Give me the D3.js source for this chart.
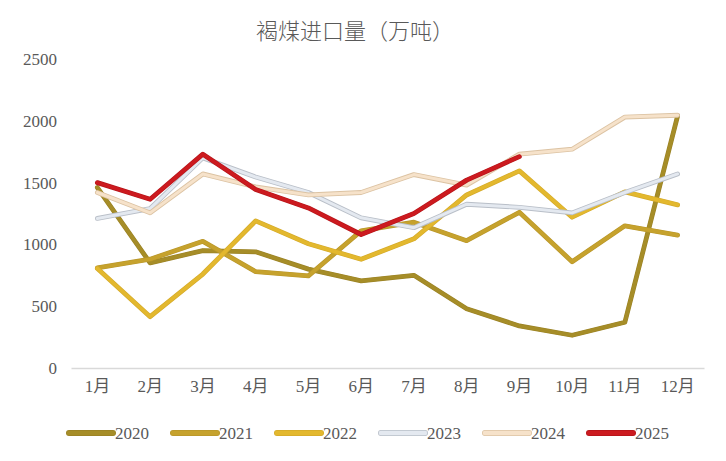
<!DOCTYPE html>
<html><head><meta charset="utf-8">
<script src="https://cdn.jsdelivr.net/npm/d3@7"></script>
<style>
html,body{margin:0;padding:0;background:#fff;}
text{font-family:"Liberation Serif","DejaVu Serif","Noto Sans CJK SC",serif;fill:#595959;}
</style></head>
<body><svg id="c" width="726" height="461"></svg>
<script>
const title = "褐煤进口量（万吨）";
const months = ["1月","2月","3月","4月","5月","6月","7月","8月","9月","10月","11月","12月"];
const yTicks = [0,500,1000,1500,2000,2500];
const years = ["2020","2021","2022","2023","2024","2025"];
const colors = ["#A68D28","#C6A22D","#E3B82E","#E4E9F0","#F6E2CA","#CC1A1F"];
const edges  = ["#9a8225","#b8962a","#d4aa2a","#b9bfc8","#dcc3a3","#b5151a"];
const s2020 = [1460,850,950,940,800,705,750,480,340,265,370,2040];
const s2021 = [810,880,1025,780,745,1110,1180,1030,1260,860,1150,1075];
const s2022 = [805,415,760,1190,1005,880,1045,1400,1595,1220,1425,1320];
const s2023 = [1210,1290,1700,1545,1420,1215,1135,1325,1300,1255,1420,1570];
const s2024 = [1420,1255,1570,1465,1400,1420,1565,1480,1730,1770,2030,2045];
const s2025 = [1500,1365,1730,1445,1295,1080,1250,1520,1710];
const series = [s2020,s2021,s2022,s2023,s2024,s2025];

(function(){
const svg = d3.select("#c");
const mL = 71, mR = 704, mT = 59, mB = 368;
const x = d3.scaleBand().domain(months).range([mL,mR]);
const y = d3.scaleLinear().domain([0,2500]).range([mB,mT]);

svg.append("text").attr("x",355).attr("y",39).attr("text-anchor","middle")
  .style("font-size","22px").style("font-family","'Noto Sans CJK SC',sans-serif").style("font-weight","300").text(title);

svg.selectAll(".yl").data(yTicks).enter().append("text")
  .attr("x",57).attr("y",d=>y(d)).attr("dy","0.35em").attr("text-anchor","end")
  .style("font-size","17px").text(d=>d);

const xa = svg.append("g").attr("transform",`translate(0,${mB})`)
  .call(d3.axisBottom(x).tickSize(0).tickPadding(12));
xa.select(".domain").attr("stroke","#d9d9d9").attr("stroke-width",1.3);
xa.selectAll("text").style("font-size","17px").style("font-family","'Liberation Serif','Noto Sans CJK SC',serif").attr("fill","#595959");

const line = d3.line().x((d,i)=>x(months[i])+x.bandwidth()/2).y(d=>y(d));
series.forEach((s,k)=>{
  svg.append("path").datum(s).attr("d",line).attr("fill","none")
    .attr("stroke",edges[k]).attr("stroke-width",4.8).attr("stroke-linejoin","round").attr("stroke-linecap","round");
  svg.append("path").datum(s).attr("d",line).attr("fill","none")
    .attr("stroke",colors[k]).attr("stroke-width",k>=3&&k<5?3.0:3.6).attr("stroke-linejoin","round").attr("stroke-linecap","round");
});

const lg = svg.append("g");
years.forEach((yr,k)=>{
  const x0 = 69 + k*104;
  lg.append("line").attr("x1",x0).attr("x2",x0+44).attr("y1",433).attr("y2",433)
    .attr("stroke",edges[k]).attr("stroke-width",6).attr("stroke-linecap","round");
  lg.append("line").attr("x1",x0).attr("x2",x0+44).attr("y1",433).attr("y2",433)
    .attr("stroke",colors[k]).attr("stroke-width",4.6).attr("stroke-linecap","round");
  lg.append("text").attr("x",x0+46).attr("y",433).attr("dy","0.35em")
    .style("font-size","17px").text(yr);
});
})();
</script></body></html>
